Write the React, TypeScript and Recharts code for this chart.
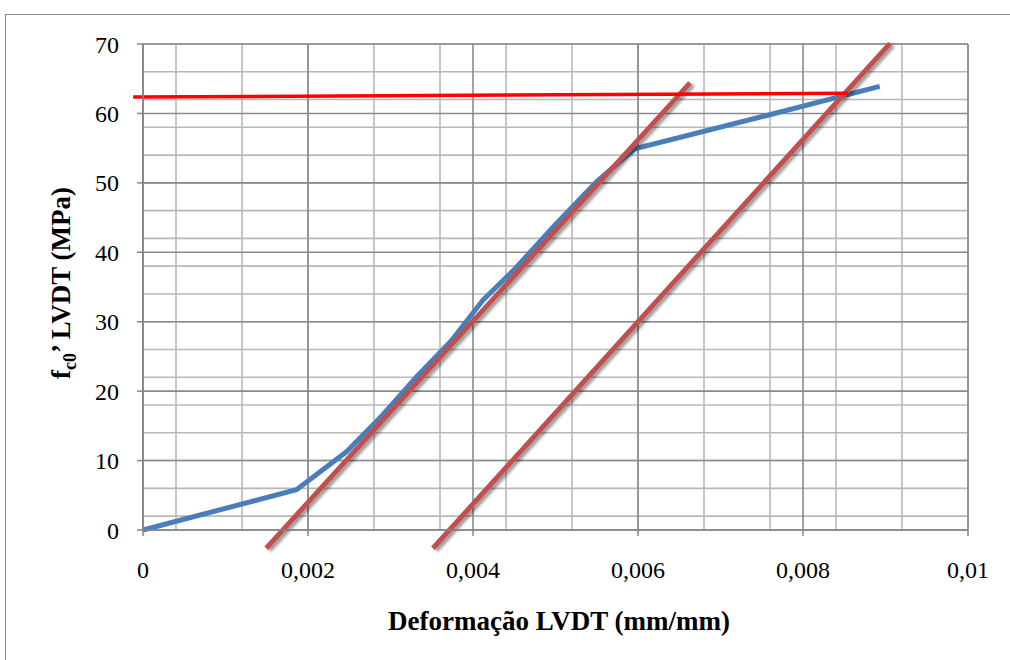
import { CartesianGrid, Line, LineChart, ReferenceLine, XAxis, YAxis } from "recharts";

// deformação (mm/mm) x tensão (MPa)
const strain = [0, 0.00186, 0.00247, 0.0029, 0.00332, 0.00374, 0.00412, 0.0045, 0.005, 0.0055, 0.00596, 0.00756, 0.00893];
const stress = [0, 5.8, 11.3, 16.5, 22.1, 27.3, 33.1, 37.5, 44.0, 50.2, 54.9, 59.7, 63.9];

// retas auxiliares (módulo e offset 0,2%) e patamar
const modulusLine = [
  { x: 0.001494, y: -2.63 },
  { x: 0.00663, y: 64.4 },
];
const offsetLine = [
  { x: 0.003515, y: -2.63 },
  { x: 0.009055, y: 70.1 },
];
const yieldLine = [
  { x: -0.00012, y: 62.35 },
  { x: 0.008545, y: 62.9 },
];

const xTicks = [0, 0.002, 0.004, 0.006, 0.008, 0.01];
const yTicks = [0, 10, 20, 30, 40, 50, 60, 70];
const xMinor = [
  0, 0.0004, 0.0008, 0.0012, 0.0016, 0.002, 0.0024, 0.0028, 0.0032, 0.0036, 0.004, 0.0044, 0.0048,
  0.0052, 0.0056, 0.006, 0.0064, 0.0068, 0.0072, 0.0076, 0.008, 0.0084, 0.0088, 0.0092, 0.0096, 0.01,
];
const yMinor = [
  0, 2, 4, 6, 8, 10, 12, 14, 16, 18, 20, 22, 24, 26, 28, 30, 32, 34, 36, 38, 40, 42, 44, 46, 48, 50,
  52, 54, 56, 58, 60, 62, 64, 66, 68, 70,
];

const data = strain.map((x, i) => ({ x, y: stress[i] }));

const FONT = "'Liberation Serif', 'Times New Roman', serif";
const AXIS = "#868686";

const XLabel = () => (
  <text x={559} y={630} textAnchor="middle" fontFamily={FONT} fontWeight="bold" fontSize={27} fill="#000">
    Deformação LVDT (mm/mm)
  </text>
);

const YLabel = () => (
  <text
    x={70}
    y={283}
    transform="rotate(-90 70 283)"
    textAnchor="middle"
    fontFamily={FONT}
    fontWeight="bold"
    fontSize={27}
    fill="#000"
  >
    f
    <tspan dy={6} fontSize={18}>
      c0
    </tspan>
    <tspan dy={-6}>’ LVDT (MPa)</tspan>
  </text>
);

export default function App() {
  return (
    <div
      style={{
        position: "fixed",
        left: 0,
        top: 0,
        width: 1010,
        height: 660,
        overflow: "hidden",
        background: "#fff",
      }}
    >
      <div
        style={{
          position: "absolute",
          left: 5,
          top: 14,
          width: 1020,
          height: 700,
          border: "1.5px solid #8a8a8a",
        }}
      />
      <div style={{ position: "absolute", left: 0, top: 0 }}>
        <LineChart width={1010} height={660} data={data} margin={{ top: 44, right: 42, bottom: 30, left: 60 }}>
          <defs>
            <filter id="lineShadow" x="-20%" y="-20%" width="140%" height="140%">
              <feDropShadow dx={3} dy={2} stdDeviation={1.8} floodColor="#000" floodOpacity={0.4} />
            </filter>
          </defs>
          <CartesianGrid
            horizontalValues={yMinor}
            verticalValues={xMinor}
            stroke="#b8b8b8"
            strokeWidth={1.6}
          />
          <CartesianGrid stroke="#8a8a8a" strokeWidth={1.6} />
          <XAxis
            type="number"
            dataKey="x"
            domain={[0, 0.01]}
            ticks={xTicks}
            tickFormatter={(v: number) => String(v).replace(".", ",")}
            height={100}
            tickSize={6}
            tickMargin={25}
            stroke={AXIS}
            strokeWidth={1.5}
            tick={{ fill: "#000", fontFamily: FONT, fontSize: 24 }}
            label={{ content: XLabel }}
          />
          <YAxis
            type="number"
            domain={[0, 70]}
            ticks={yTicks}
            width={83}
            tickSize={6}
            tickMargin={18}
            stroke={AXIS}
            strokeWidth={1.5}
            tick={{ fill: "#000", fontFamily: FONT, fontSize: 24 }}
            label={{ content: YLabel }}
          />
          <Line
            type="linear"
            dataKey="y"
            stroke="#4A7EBB"
            strokeWidth={5}
            dot={false}
            isAnimationActive={false}
          />
          <ReferenceLine
            segment={modulusLine}
            ifOverflow="visible"
            stroke="#C0504D"
            strokeWidth={5}
            filter="url(#lineShadow)"
          />
          <ReferenceLine
            segment={offsetLine}
            ifOverflow="visible"
            stroke="#C0504D"
            strokeWidth={5}
            filter="url(#lineShadow)"
          />
          <ReferenceLine segment={yieldLine} ifOverflow="visible" stroke="#FF0000" strokeWidth={3.5} />
        </LineChart>
      </div>
    </div>
  );
}
